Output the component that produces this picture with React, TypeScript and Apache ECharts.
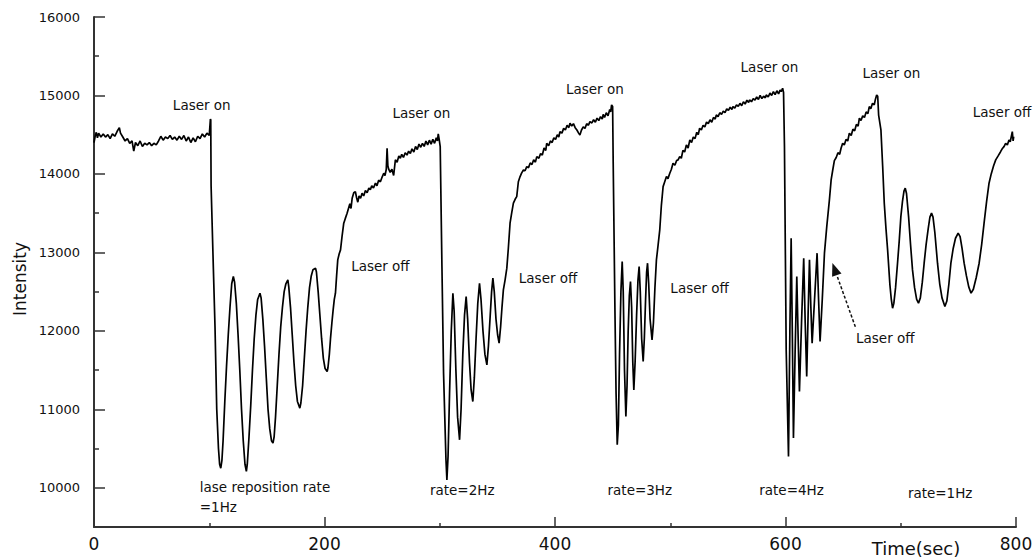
import React, { useEffect, useRef } from "react";
import * as echarts from "echarts";

// Time (sec) / Intensity readings, segment by segment
const baseline: [number, number][] = [
  [0, 14400], [1, 14480], [2, 14530], [3, 14460], [4, 14520], [6, 14470], [8, 14510], [10, 14470], [12, 14500],
  [14, 14450], [16, 14510], [18, 14480], [20, 14540], [22, 14590], [23, 14520], [25, 14470], [27, 14420], [29, 14450],
  [31, 14390], [33, 14420], [34.5, 14290], [36, 14400], [38, 14360], [40, 14420], [42, 14350], [44, 14390], [46, 14370],
  [48, 14400], [50, 14360], [52, 14390], [54, 14370], [56, 14420], [58, 14480], [60, 14430], [62, 14470], [64, 14450],
  [66, 14490], [68, 14440], [70, 14470], [72, 14430], [74, 14480], [76, 14440], [78, 14490], [80, 14420], [82, 14470],
  [84, 14400], [86, 14460], [88, 14410], [90, 14480], [92, 14450], [94, 14510], [96, 14470], [98, 14520], [100, 14490],
  [101, 14700],
];

const pulse1Hz: [number, number][] = [
  [101.3, 14690], [101.6, 13850], [103.6, 12780], [105, 12050], [106.5, 11000], [108, 10500], [109, 10300], [110, 10250],
  [111, 10350], [112, 10600], [113.5, 11100], [115, 11550], [116.5, 11950], [118, 12300], [119.5, 12600], [120.9, 12692],
  [122, 12620], [123.5, 12350], [125, 11950], [126.5, 11500], [128, 11000], [129.5, 10600], [131, 10300], [132.2, 10208],
  [133, 10300], [134.5, 10650], [136, 11050], [137.5, 11500], [139, 11900], [140.5, 12200], [142, 12400], [144, 12480],
  [145, 12420], [146.5, 12150], [148, 11800], [149.5, 11400], [151, 11000], [152.5, 10750], [154, 10600], [155.3, 10569],
  [156.3, 10650], [157.5, 10900], [159, 11300], [160.5, 11700], [162, 12050], [163.5, 12300], [165, 12500], [166.5, 12600],
  [168.2, 12650], [169, 12560], [170.5, 12300], [172, 11950], [173.5, 11600], [175, 11300], [176.5, 11100], [178.6, 11015],
  [179.5, 11080], [181, 11300], [182.5, 11650], [184, 12000], [185.5, 12300], [187, 12550], [188.5, 12700], [190, 12780],
  [192.2, 12799], [193, 12750], [194.5, 12500], [196, 12200], [197.5, 11900], [199, 11650], [200.5, 11520], [202.3, 11482],
];

const recovery1: [number, number][] = [
  [203, 11530], [204.2, 11700], [205.2, 11900], [206.4, 12100], [207.5, 12268], [208.5, 12400], [209.5, 12480],
  [210.5, 12700], [211.5, 12905], [212.7, 12980], [213.9, 13032], [215.2, 13200], [216.7, 13372], [218, 13430],
  [219.6, 13499], [220.8, 13560], [222, 13620], [223, 13560], [224, 13690], [225.4, 13760], [226.8, 13775], [227.8, 13700],
  [228.9, 13640], [230, 13720], [231.3, 13690], [232.6, 13754], [234, 13720], [235.5, 13790], [237, 13760], [238.5, 13820],
  [239.8, 13800], [241, 13850], [242.5, 13820], [244.2, 13882], [245.5, 13850], [247, 13920], [248.5, 13900], [250, 13960],
  [251.4, 14009], [252.5, 13980], [253.6, 14060], [254.3, 14327], [255, 14100], [255.7, 14060], [257, 14020], [258.5, 14060],
  [260, 13980], [261.5, 14180], [263, 14150], [264.5, 14230], [265.8, 14200], [267, 14250], [268.5, 14210], [270, 14270],
  [271.6, 14240], [273, 14290], [274.5, 14260], [275.9, 14320], [277.5, 14280], [279, 14350], [280.5, 14310], [282, 14380],
  [283.5, 14340], [285, 14390], [286.5, 14350], [288, 14420], [289.5, 14370], [291, 14430], [292.5, 14380], [294, 14440],
  [295.5, 14390], [297, 14460], [298, 14420], [298.7, 14510], [299.5, 14440], [300.4, 14348],
];

const pulse2Hz: [number, number][] = [
  [301.9, 12819], [303.3, 11461], [305.4, 10357], [306.2, 10100], [307.2, 10400], [308.5, 11200], [310, 12000],
  [311.4, 12480], [312.5, 12250], [314, 11500], [315.5, 10900], [317.2, 10611], [318.5, 11000], [320, 11700],
  [321.5, 12200], [322.9, 12437], [324.2, 12150], [325.8, 11600], [327.2, 11250], [328.7, 11099], [330, 11400],
  [331.5, 11900], [333, 12350], [334.5, 12607], [335.8, 12400], [337.5, 12000], [339.2, 11700], [340.9, 11567],
  [342.2, 11800], [343.8, 12200], [345, 12500], [346.1, 12671], [347.3, 12500], [348.8, 12150], [350.2, 11950],
  [351.5, 11843], [352.8, 12050], [354, 12300], [355.2, 12522], [356.7, 12650], [358.2, 12799], [359.5, 13050],
  [361, 13372], [362.4, 13500], [363.9, 13627], [365.5, 13680],
];

const recovery2: [number, number][] = [
  [366.8, 13711], [368.2, 13900], [369.7, 13966], [371, 14010], [372.6, 14051], [374, 14040], [375.5, 14093], [377, 14080],
  [378.5, 14140], [380, 14120], [381.5, 14180], [383, 14150], [384.2, 14221], [386, 14200], [387.5, 14260], [389, 14240],
  [390.5, 14330], [392, 14300], [392.8, 14391], [394.5, 14360], [396, 14420], [397.5, 14400], [399, 14460], [400.5, 14440],
  [402, 14500], [403.3, 14470], [404.3, 14539], [406, 14520], [407.5, 14580], [409, 14560], [410.5, 14620], [412, 14590],
  [413, 14646], [414.5, 14610], [416, 14640], [417.5, 14590], [419, 14560], [420.5, 14520], [421.6, 14497], [423, 14560],
  [424.5, 14600], [426, 14580], [427.5, 14640], [429, 14620], [430.3, 14667], [432, 14650], [433.5, 14690], [435, 14660],
  [436.5, 14710], [438, 14680], [439.5, 14730], [441, 14700], [441.8, 14760], [443, 14720], [444.5, 14780], [446, 14740],
  [447.5, 14820], [448.3, 14790], [449.1, 14879], [450, 14860],
];

const pulse3Hz: [number, number][] = [
  [450.5, 14137], [452, 12268], [453, 11200], [454, 10548], [455, 10800], [456, 11700], [457.2, 12500], [458.3, 12883],
  [459.2, 12500], [460.3, 11500], [461.5, 10908], [462.5, 11300], [463.5, 12000], [464.5, 12450], [465.5, 12629],
  [466.5, 12300], [467.5, 11600], [468.4, 11248], [469.5, 11600], [470.8, 12200], [472, 12650], [473, 12819],
  [474, 12500], [475.2, 11900], [476.5, 11609], [477.5, 11900], [478.6, 12400], [479.5, 12750], [480.3, 12862],
  [481.3, 12600], [482.5, 12150], [484.2, 11885], [485.4, 12100], [486.7, 12550], [488, 12904], [489.5, 13100],
  [490.9, 13287], [492.3, 13600], [493.8, 13838],
];

const recovery3: [number, number][] = [
  [495.2, 13900], [496.7, 13966], [498, 13940], [499.6, 14009], [501, 14060], [502.4, 14136], [504, 14110], [505.5, 14170],
  [506.8, 14179], [508.2, 14220], [509.6, 14200], [511, 14300], [512.5, 14280], [514, 14370], [515.5, 14330], [517, 14434],
  [518.5, 14400], [520, 14470], [521.5, 14450], [523, 14530], [524.3, 14500], [525.5, 14582], [527, 14560], [528.5, 14620],
  [530, 14600], [531.5, 14660], [533, 14640], [534.5, 14690], [536, 14660], [537.5, 14720], [539, 14700], [540, 14752],
  [541.5, 14730], [543, 14780], [544.5, 14760], [546, 14800], [547.5, 14780], [549, 14830], [550.5, 14810], [552, 14850],
  [553.5, 14820], [554.4, 14858], [556, 14840], [557.5, 14880], [559, 14860], [560.5, 14900], [562, 14870], [563.5, 14920],
  [565, 14890], [566.5, 14940], [568, 14910], [568.8, 14943], [570.5, 14920], [572, 14960], [573.5, 14940], [575, 14980],
  [576.5, 14950], [578, 15000], [579.5, 14960], [581, 14990], [582.5, 14970], [583.3, 15007], [585, 14980], [586.5, 15030],
  [588, 15000], [589.5, 15050], [591, 15010], [592.5, 15060], [594, 15020], [595.3, 15070], [596.3, 15049], [597.5, 15092],
  [598.3, 15040],
];

const pulse4Hz: [number, number][] = [
  [599.1, 14348], [600.6, 11758], [602.6, 10399], [603.8, 12000], [604.9, 13181], [605.9, 12000], [606.9, 10633],
  [608.3, 11700], [609.8, 12692], [611, 11900], [612.1, 11227], [613.9, 12100], [615.8, 12926], [617.1, 12100],
  [618.4, 11418], [619.6, 12200], [620.8, 12905], [622, 12300], [623.1, 11843], [625.2, 12400], [627.4, 12990],
  [628.7, 12400], [630, 11864], [631.9, 12400], [633.8, 12990], [635.8, 13329], [638.1, 13669], [639.6, 13924],
  [641, 14050], [642.4, 14170],
];

const recovery4: [number, number][] = [
  [644, 14210], [645.5, 14270], [647, 14250], [648.2, 14328], [649.6, 14391], [651, 14370], [652.5, 14440], [654, 14420],
  [655.4, 14519], [657, 14490], [658.5, 14570], [660, 14550], [661.5, 14630], [663, 14610], [664.1, 14710], [665.5, 14680],
  [667, 14740], [668.5, 14720], [670, 14790], [671.5, 14770], [672.7, 14858], [674, 14830], [675.5, 14900], [677, 14880],
  [678, 14950], [679.1, 15007], [680, 14990], [680.8, 14750], [682.8, 14561], [684.3, 14100], [685.7, 13627],
  [687.2, 13300], [688.6, 13032], [690.6, 12586], [691.8, 12400], [692.9, 12289],
];

const pulse1HzEnd: [number, number][] = [
  [694, 12350], [695.5, 12550], [697.2, 12862], [698.7, 13150], [700.1, 13456], [701.5, 13650], [702.8, 13780],
  [703.9, 13818], [705, 13750], [706.8, 13456], [708.5, 13100], [710.2, 12777], [712, 12550], [713.8, 12400],
  [715.4, 12353], [717, 12420], [718.7, 12620], [720.3, 12862], [722, 13100], [723.8, 13300], [725.3, 13450],
  [726.7, 13500], [728, 13450], [729.6, 13250], [731.9, 12862], [733.8, 12600], [735.8, 12420], [738.3, 12310],
  [740, 12380], [741.8, 12600], [743.5, 12862], [745.5, 13050], [747.5, 13180], [749.8, 13245], [751.5, 13200],
  [753.2, 13050], [755, 12862], [757, 12700], [759, 12560], [761, 12480], [763, 12530], [765.5, 12680], [768, 12862],
  [770.2, 13100], [772.3, 13372], [774.5, 13650], [776.6, 13882], [778.5, 14000], [780.5, 14100], [782.4, 14179],
  [784.5, 14230], [786.5, 14280], [788, 14320], [789.6, 14348], [791, 14390], [792.5, 14370], [793.9, 14433],
  [795, 14410], [796, 14480], [796.8, 14540], [797.5, 14420], [798, 14476],
];

const xTickValues = [0, 200, 400, 600, 800];
const xMinorTickValues = [100, 300, 500, 700];
const yTickValues = [10000, 11000, 12000, 13000, 14000, 15000, 16000];
const yMinorTickValues = [10500, 11500, 12500, 13500, 14500, 15500];

const annotationTexts = ["Laser on", "Laser on", "Laser off", "Laser off", "Laser on", "Laser off", "Laser on", "Laser on", "Laser off", "Laser off", "lase reposition rate", "=1Hz", "rate=2Hz", "rate=3Hz", "rate=4Hz", "rate=1Hz"];
const annotationAt: [number, number][] = [
  [93.5, 14879], [284, 14777], [248.5, 12828], [394, 12675], [434.6, 15083], [525.5, 12548], [586.1, 15363],
  [691.8, 15287], [787.9, 14790], [686.6, 11911], [91.8, 10013], [91.8, 9758], [319.5, 9975], [473.6, 9975],
  [605.2, 9975], [734.2, 9936],
];
const annotationAlign = ["center", "center", "center", "center", "center", "center", "center", "center", "center", "center", "left", "left", "center", "center", "center", "center"];
const arrowTail: [number, number] = [660.6, 12051];
const arrowTip: [number, number] = [640.7, 12866];

const FONT = "'DejaVu Sans', Verdana, sans-serif";

export default function App() {
  const ref = useRef<HTMLDivElement>(null);
  useEffect(() => {
    if (!ref.current) return;
    const chart = echarts.init(ref.current, null, { renderer: "svg" });
    const data = [
      ...baseline, ...pulse1Hz, ...recovery1, ...pulse2Hz, ...recovery2,
      ...pulse3Hz, ...recovery3, ...pulse4Hz, ...recovery4, ...pulse1HzEnd,
    ];
    const axisColor = "#333";
    const baseAxis = {
      type: "value",
      splitLine: { show: false },
      axisLine: { show: false },
      axisLabel: { show: false },
    };
    chart.setOption({
      animation: false,
      backgroundColor: "#fff",
      grid: { left: 94, right: 20, top: 17, bottom: 33, containLabel: false, outerBoundsMode: "none" },
      xAxis: [
        {
          ...baseAxis, min: 0, max: 800,
          axisLine: { show: true, onZero: false, lineStyle: { color: axisColor, width: 2 } },
          axisTick: { show: true, inside: true, length: 10, customValues: xTickValues, lineStyle: { color: axisColor, width: 1.5 } },
          axisLabel: { show: true, margin: 8, fontSize: 17, fontFamily: FONT, color: "#111", customValues: xTickValues },
        },
        {
          ...baseAxis, min: 0, max: 800, position: "bottom",
          axisTick: { show: true, inside: true, length: 4, customValues: xMinorTickValues, lineStyle: { color: axisColor, width: 1.5 } },
        },
      ],
      yAxis: [
        {
          ...baseAxis, min: 9500, max: 16000,
          axisLine: { show: true, onZero: false, lineStyle: { color: axisColor, width: 2 } },
          axisTick: { show: true, inside: true, length: 11, customValues: yTickValues, lineStyle: { color: axisColor, width: 1.5 } },
          axisLabel: {
            show: true, margin: 14, fontSize: 13, fontFamily: FONT, color: "#111", customValues: yTickValues,
            formatter: (v: number) => String(v),
          },
        },
        {
          ...baseAxis, min: 9500, max: 16000, position: "left",
          axisTick: { show: true, inside: true, length: 5, customValues: yMinorTickValues, lineStyle: { color: axisColor, width: 1.5 } },
        },
      ],
      series: [
        {
          type: "line", data, showSymbol: false, symbol: "none", xAxisIndex: 0, yAxisIndex: 0,
          lineStyle: { color: "#000", width: 1.7 },
        },
      ],
    });

    const px = (p: [number, number]) => chart.convertToPixel({ xAxisIndex: 0, yAxisIndex: 0 }, p) as number[];
    const graphics: any[] = annotationTexts.map((text, i) => {
      const [x, y] = px(annotationAt[i]);
      return {
        type: "text", x, y,
        style: { text, fontSize: 13.5, fontFamily: FONT, fill: "#111", align: annotationAlign[i], verticalAlign: "middle" },
      };
    });
    const tail = px(arrowTail);
    const tip = px(arrowTip);
    const dx = tip[0] - tail[0];
    const dy = tip[1] - tail[1];
    const len = Math.sqrt(dx * dx + dy * dy);
    const ux = dx / len, uy = dy / len;
    const bx = tip[0] - ux * 13, by = tip[1] - uy * 13;
    const nx = -uy, ny = ux;
    graphics.push({
      type: "line",
      shape: { x1: tail[0], y1: tail[1], x2: bx, y2: by },
      style: { stroke: "#111", lineWidth: 1.5, lineDash: [3, 2] },
    });
    graphics.push({
      type: "polygon",
      shape: { points: [[tip[0], tip[1]], [bx + nx * 5, by + ny * 5], [bx - nx * 5, by - ny * 5]] },
      style: { fill: "#111" },
    });
    graphics.push({
      type: "text", x: 916, y: 548,
      style: { text: "Time(sec)", fontSize: 18, fontFamily: FONT, fill: "#111", align: "center", verticalAlign: "middle" },
    });
    graphics.push({
      type: "text", x: 20, y: 279, rotation: Math.PI / 2,
      style: { text: "Intensity", fontSize: 17, fontFamily: FONT, fill: "#111", align: "center", verticalAlign: "middle" },
    });
    chart.setOption({ graphic: graphics });

    return () => chart.dispose();
  }, []);
  return <div ref={ref} style={{ width: 1036, height: 560, position: "absolute", left: 0, top: 0 }} />;
}
